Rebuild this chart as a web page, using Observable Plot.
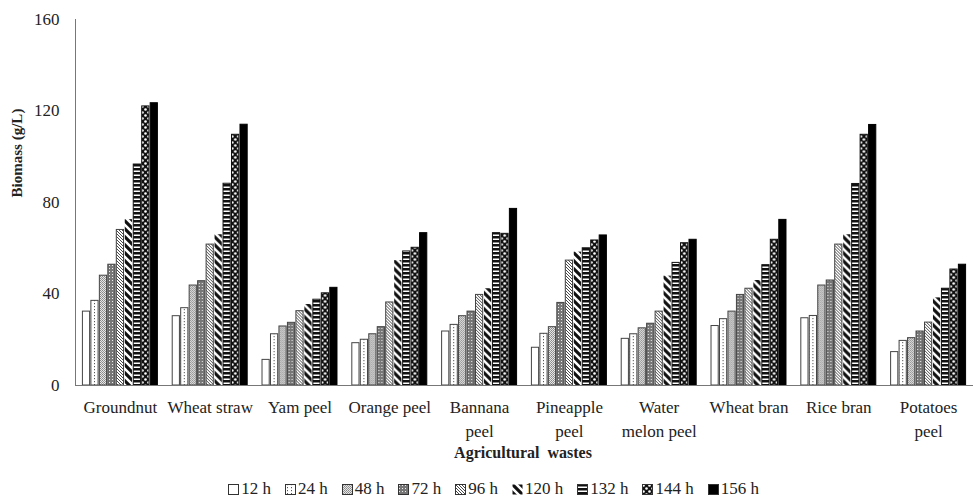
<!DOCTYPE html>
<html>
<head>
<meta charset="utf-8">
<script src="https://cdn.jsdelivr.net/npm/d3@7"></script>
<script src="https://cdn.jsdelivr.net/npm/@observablehq/plot@0.6"></script>
<style>
  body { margin: 0; background: #fff; font-family: "Liberation Serif", serif; color: #222; }
  #wrap { position: relative; width: 973px; height: 504px; overflow: hidden; font-family: "Liberation Serif", serif; }
  #ytitle { position: absolute; left: 17px; top: 153px; transform: translate(-50%, -50%) rotate(-90deg); font-weight: bold; font-size: 15px; white-space: nowrap; font-family: "Liberation Serif", serif; }
  #xtitle { position: absolute; left: 523px; top: 453px; transform: translate(-50%, -50%); font-weight: bold; font-size: 16px; white-space: pre; font-family: "Liberation Serif", serif; }
  #legend { position: absolute; top: 479px; left: 0; width: 973px; padding-left: 14px; box-sizing: border-box; display: flex; justify-content: center; align-items: center; font-size: 17px; font-family: "Liberation Serif", serif; }
  .item { display: flex; align-items: center; margin: 0 7px; }
  .item svg { margin-right: 2px; }
</style>
</head>
<body>
<svg width="0" height="0" style="position:absolute">
  <defs>
    <pattern id="pat0" width="4" height="4" patternUnits="userSpaceOnUse"><rect width="4" height="4" fill="#fff"/></pattern>
    <pattern id="pat1" width="4" height="3" patternUnits="userSpaceOnUse"><rect width="4" height="3" fill="#fff"/><rect x="2" y="0" width="1" height="1.2" fill="#555"/></pattern>
    <pattern id="pat2" width="2" height="2" patternUnits="userSpaceOnUse"><rect width="2" height="2" fill="#e6e6e6"/><rect x="0" y="0" width="1" height="1" fill="#888"/><rect x="1" y="1" width="1" height="1" fill="#999"/></pattern>
    <pattern id="pat3" width="3" height="3" patternUnits="userSpaceOnUse"><rect width="3" height="3" fill="#777"/><rect x="1" y="1" width="1" height="1" fill="#eee"/></pattern>
    <pattern id="pat4" width="3" height="3" patternUnits="userSpaceOnUse"><rect width="3" height="3" fill="#fff"/><path d="M-1,-1 L4,4 M2,-1 L4,1 M-1,2 L1,4" stroke="#333" stroke-width="0.9"/></pattern>
    <pattern id="pat5" width="8" height="8" patternUnits="userSpaceOnUse"><rect width="8" height="8" fill="#fff"/><path d="M-2,-2 L10,10 M6,-2 L10,2 M-2,6 L2,10" stroke="#111" stroke-width="3.2"/></pattern>
    <pattern id="pat6" width="4" height="4" patternUnits="userSpaceOnUse"><rect width="4" height="4" fill="#111"/><rect x="0" y="2.5" width="4" height="1.5" fill="#fff"/></pattern>
    <pattern id="pat7" width="6" height="6" patternUnits="userSpaceOnUse"><rect width="6" height="6" fill="#111"/><circle cx="1.5" cy="1.5" r="1.3" fill="#fff"/><circle cx="4.5" cy="4.5" r="1.3" fill="#fff"/></pattern>
    <pattern id="pat8" width="4" height="4" patternUnits="userSpaceOnUse"><rect width="4" height="4" fill="#000"/></pattern>
  </defs>
</svg>
<div id="wrap">
  <div id="chart"></div>
  <div id="ytitle">Biomass (g/L)</div>
  <div id="xtitle">Agricultural  wastes</div>
  <div id="legend"></div>
</div>
<script>
const categories = ["Groundnut", "Wheat straw", "Yam peel", "Orange peel", "Bannana\npeel", "Pineapple\npeel", "Water\nmelon peel", "Wheat bran", "Rice bran", "Potatoes\npeel"];
const series = ["12 h", "24 h", "48 h", "72 h", "96 h", "120 h", "132 h", "144 h", "156 h"];
const yTicks = [0, 40, 80, 120, 160];

const groundnut      = [32.3, 37.0, 48.0, 52.8, 68.0, 72.5, 96.6, 122.0, 123.4];
const wheatStraw     = [30.3, 33.8, 43.7, 45.6, 61.6, 65.9, 88.2, 109.6, 114.0];
const yamPeel        = [11.2, 22.4, 25.8, 27.4, 32.5, 35.4, 37.5, 40.3, 42.7];
const orangePeel     = [18.5, 20.0, 22.4, 25.5, 36.3, 54.6, 58.6, 60.2, 66.6];
const bannanaPeel    = [23.6, 26.5, 30.3, 32.3, 39.6, 42.3, 66.6, 66.3, 77.2];
const pineapplePeel  = [16.5, 22.6, 25.5, 36.1, 54.6, 58.3, 60.0, 63.4, 65.6];
const waterMelonPeel = [20.4, 22.4, 25.0, 27.0, 32.3, 47.8, 53.6, 62.2, 63.7];
const wheatBran      = [26.0, 29.0, 32.3, 39.6, 42.3, 45.9, 52.6, 63.7, 72.4];
const riceBran       = [29.4, 30.4, 43.7, 45.9, 61.6, 65.9, 88.1, 109.6, 113.9];
const potatoesPeel   = [14.6, 19.5, 20.7, 23.6, 27.5, 38.3, 42.3, 50.7, 52.8];

const valuesByCategory = [groundnut, wheatStraw, yamPeel, orangePeel, bannanaPeel, pineapplePeel, waterMelonPeel, wheatBran, riceBran, potatoesPeel];

const rows = [];
categories.forEach((c, ci) => series.forEach((s, si) => rows.push({cat: c, series: s, value: valuesByCategory[ci][si]})));

const strokes = ["#444", "#444", "#444", "#444", "#444", "none", "#111", "#111", "#000"];

const chart = Plot.plot({
  width: 973,
  height: 470,
  marginTop: 19,
  marginBottom: 85,
  marginLeft: 75,
  marginRight: 0,
  style: {fontFamily: "Liberation Serif", fontSize: "17px", color: "#222", background: "white", overflow: "visible"},
  fx: {domain: categories, padding: 0, round: false, label: null},
  x: {domain: series, paddingInner: 0.15, paddingOuter: 0.875, round: false, axis: null},
  y: {domain: [0, 160], label: null},
  marks: [
    Plot.axisY({ticks: yTicks, tickSize: 0, tickPadding: 16, label: null, fontSize: 17}),
    Plot.axisFx({anchor: "bottom", tickSize: 0, tickPadding: 11, label: null, fontSize: 17, lineHeight: 1.38}),
    ...series.map((s, i) => Plot.barY(rows.filter(r => r.series === s), {
      fx: "cat", x: "series", y: "value",
      fill: `url(#pat${i})`, stroke: strokes[i], strokeWidth: 1
    })),
    Plot.frame({anchor: "left", facetAnchor: "left", stroke: "#777"}),
    Plot.frame({anchor: "bottom", stroke: "#777"})
  ]
});
document.getElementById("chart").appendChild(chart);

const legend = document.getElementById("legend");
series.forEach((s, i) => {
  const item = document.createElement("div");
  item.className = "item";
  item.innerHTML = `<svg width="11" height="11"><rect x="0.5" y="0.5" width="10" height="10" fill="url(#pat${i})" stroke="${i === 5 ? "none" : "#333"}"/></svg><span>${s}</span>`;
  legend.appendChild(item);
});
</script>
</body>
</html>
